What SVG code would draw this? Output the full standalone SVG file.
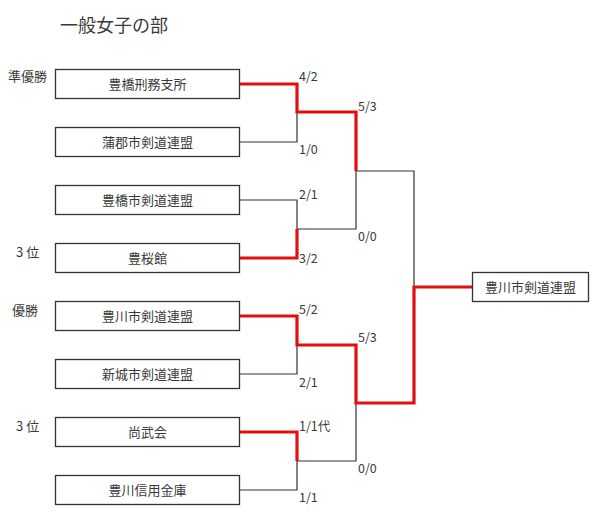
<svg xmlns="http://www.w3.org/2000/svg" width="600" height="532" viewBox="0 0 600 532">
<style>
text{font-family:"Noto Sans CJK JP","Noto Sans CJK SC",sans-serif;fill:#3a3a3a}
.t{font-size:13px;text-anchor:middle}
.s{font-size:12.5px}
.l{font-size:13px}
.b{fill:#fff;stroke:#333;stroke-width:1.3}
.k{fill:none;stroke:#333;stroke-width:1.2}
.r{fill:none;stroke:#e01010;stroke-width:3.2;stroke-linejoin:miter}
</style>
<rect width="600" height="532" fill="#fff"/>
<text x="60" y="32" style="font-size:18px">一般女子の部</text>
<g id="connectors">
<polyline class="k" points="239,142 297,142 297,112"/>
<polyline class="k" points="239,200 297,200 297,229 356,229 356,171 414,171 414,287"/>
<polyline class="k" points="239,374 297,374 297,345"/>
<polyline class="k" points="239,490 297,490 297,461 356,461 356,403"/>
<polyline class="r" points="239,84 297,84 297,112 356,112 356,171"/>
<polyline class="r" points="239,258 297,258 297,229"/>
<polyline class="r" points="239,316 297,316 297,345 356,345 356,403 414,403 414,287 472,287"/>
<polyline class="r" points="239,432 297,432 297,461"/>
</g>
<g id="scores">
<text x="299" y="81" class="s">4/2</text>
<text x="299" y="154" class="s">1/0</text>
<text x="358" y="111" class="s">5/3</text>
<text x="299" y="199" class="s">2/1</text>
<text x="358" y="241" class="s">0/0</text>
<text x="299" y="263" class="s">3/2</text>
<text x="299" y="314" class="s">5/2</text>
<text x="358" y="342" class="s">5/3</text>
<text x="299" y="387" class="s">2/1</text>
<text x="299" y="431" class="s">1/1代</text>
<text x="358" y="473" class="s">0/0</text>
<text x="299" y="502" class="s">1/1</text>
</g>
<g id="ranks">
<text x="8" y="81" class="l">準優勝</text>
<text x="16" y="257" class="l">3 位</text>
<text x="12" y="315" class="l">優勝</text>
<text x="16" y="431" class="l">3 位</text>
</g>
<g id="n1"><rect class="b" x="55.5" y="69.5" width="184" height="29"/><text class="t" x="147.5" y="89">豊橋刑務支所</text></g>
<g id="n2"><rect class="b" x="55.5" y="127.5" width="184" height="29"/><text class="t" x="147.5" y="147">蒲郡市剣道連盟</text></g>
<g id="n3"><rect class="b" x="55.5" y="185.5" width="184" height="29"/><text class="t" x="147.5" y="205">豊橋市剣道連盟</text></g>
<g id="n4"><rect class="b" x="55.5" y="243.5" width="184" height="29"/><text class="t" x="147.5" y="263">豊桜館</text></g>
<g id="n5"><rect class="b" x="55.5" y="301.5" width="184" height="29"/><text class="t" x="147.5" y="321">豊川市剣道連盟</text></g>
<g id="n6"><rect class="b" x="55.5" y="359.5" width="184" height="29"/><text class="t" x="147.5" y="379">新城市剣道連盟</text></g>
<g id="n7"><rect class="b" x="55.5" y="417.5" width="184" height="29"/><text class="t" x="147.5" y="437">尚武会</text></g>
<g id="n8"><rect class="b" x="55.5" y="475.5" width="184" height="29"/><text class="t" x="147.5" y="495">豊川信用金庫</text></g>
<g id="winner"><rect class="b" x="472.5" y="272.5" width="116" height="29"/><text class="t" x="530.5" y="292">豊川市剣道連盟</text></g>
</svg>
